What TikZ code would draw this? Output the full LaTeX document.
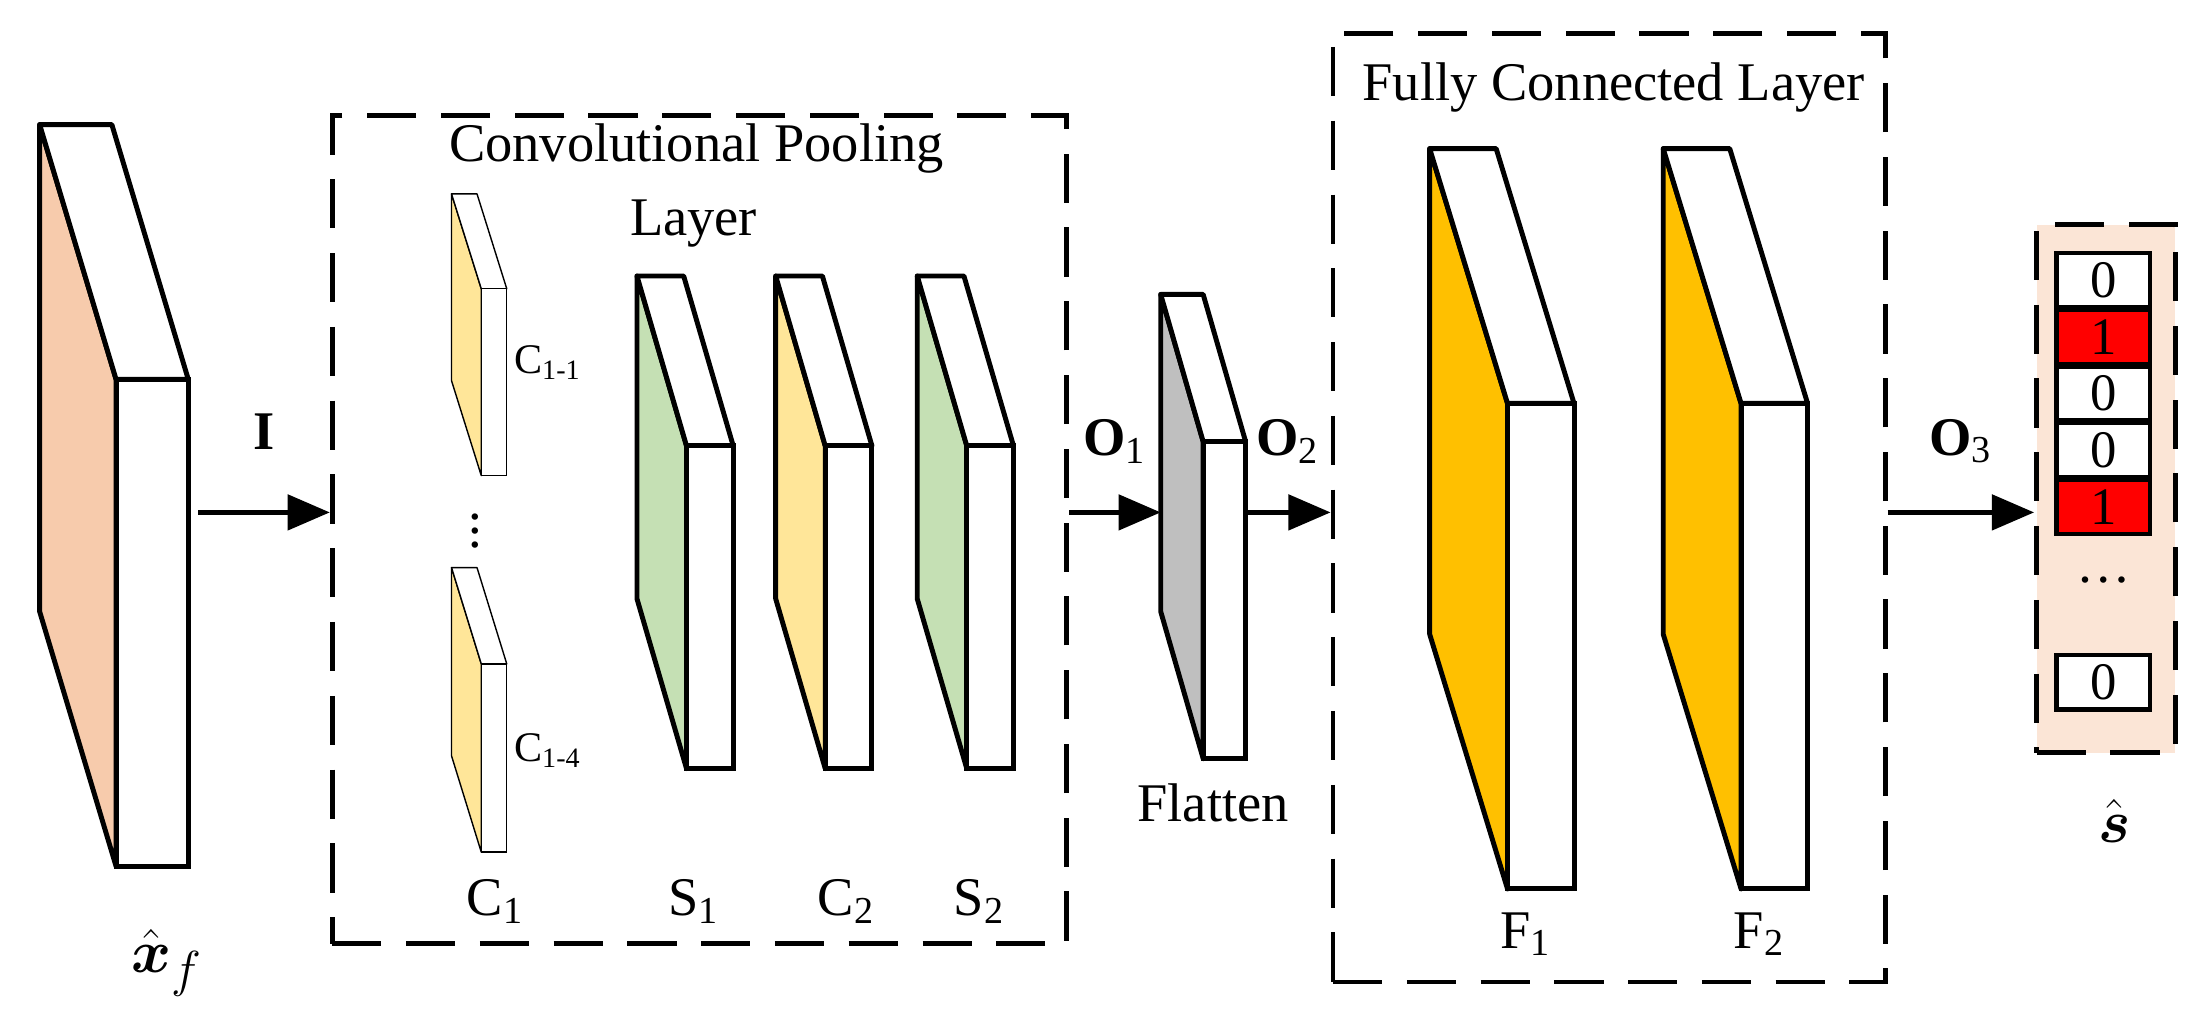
\documentclass[tikz,border=0pt]{standalone}
\usepackage{amsmath}
\usepackage{fontspec}
\setmainfont{Liberation Serif}
\usetikzlibrary{arrows.meta,positioning}
\definecolor{peach}{RGB}{247,203,172}
\definecolor{paleyellow}{RGB}{255,230,153}
\definecolor{palegreen}{RGB}{197,224,180}
\definecolor{gold}{RGB}{255,192,0}
\definecolor{flatgray}{RGB}{191,191,191}
\definecolor{outbg}{RGB}{251,229,214}
\tikzset{
  layerbox/.style = {draw, line width=1.4pt, dash pattern=on 14pt off 7pt},
  conn/.style     = {line width=1.3pt, -{Triangle[length=12pt,width=10pt]}},
  lbl/.style      = {font=\fontsize{15.5}{18}\selectfont},
  small/.style    = {font=\fontsize{12}{14}\selectfont},
  cell/.style     = {draw, line width=1.4pt, minimum width=26.5pt, minimum height=15.5pt,
                     inner sep=0pt, font=\fontsize{15}{17}\selectfont}
}
% slab: x, y (front top-left), w, h, dx, dy, colour, line width
\newcommand{\slab}[8]{%
  \filldraw[fill=#7, line width=#8, line join=round] (#1,#2) -- (#1-#5,#2-#6) -- (#1-#5,#2+#4-#6) -- (#1,#2+#4) -- cycle;
  \filldraw[fill=white, line width=#8, line join=round] (#1,#2) -- (#1-#5,#2-#6) -- (#1-#5+#3,#2-#6) -- (#1+#3,#2) -- cycle;
  \filldraw[fill=white, line width=#8] (#1,#2) rectangle (#1+#3,#2+#4);
}
\begin{document}
\begin{tikzpicture}[x=0.014155cm, y=-0.014155cm]
  \useasboundingbox (0,0) rectangle (1550,715);
  % input
  \slab{82}{268}{51}{344}{54}{180}{peach}{1.4pt}
  \node[lbl, font=\fontsize{19}{21}\selectfont] (xf) at (118,680) {$\hat{\boldsymbol{x}}_{f}$};
  % convolutional pooling layer
  \node[layerbox, minimum width=519*0.014155cm, minimum height=585*0.014155cm, anchor=north west] (conv) at (233,80) {};
  \node[lbl] (convt) at (492,105) {Convolutional Pooling};
  \node[lbl] (convl) at (490,158) {Layer};
  \slab{340}{204}{18}{132}{21}{67}{paleyellow}{0.4pt}
  \slab{340}{469}{18}{133}{21}{68}{paleyellow}{0.4pt}
  \node[small] (c11) at (387,256) {C\textsubscript{1-1}};
  \node[small] (c14) at (387,530) {C\textsubscript{1-4}};
  \node[lbl] (dots) at (336,368) {$\vdots$};
  \foreach \x/\c in {485/palegreen, 583/paleyellow, 683/palegreen}
    \slab{\x}{315}{33}{228}{35}{120}{\c}{1.4pt};
  \foreach \x/\t in {350/C\textsubscript{1}, 490/S\textsubscript{1}, 598/C\textsubscript{2}, 692/S\textsubscript{2}}
    \node[lbl] at (\x,637) {\t};
  % flatten
  \slab{850}{312}{30}{224}{30}{104}{flatgray}{1.4pt}
  \node[lbl] (flat) at (857,567) {Flatten};
  % fully connected layer
  \node[layerbox, minimum width=390*0.014155cm, minimum height=670*0.014155cm, anchor=north west] (fc) at (940,22) {};
  \node[lbl] (fct) at (1140,62) {Fully Connected Layer};
  \foreach \x/\t in {1065/F\textsubscript{1}, 1230/F\textsubscript{2}} {
    \slab{\x}{285}{47}{343}{55}{180}{gold}{1.4pt};
    \node[lbl] at (\x+13,660) {\t};
  }
  % output
  \node[layerbox, fill=outbg, minimum width=98*0.014155cm, minimum height=373*0.014155cm, anchor=north west] (out) at (1437,157) {};
  \foreach \v/\c [count=\i] in {0/white, 1/red, 0/white, 0/white, 1/red}
    \node[cell, fill=\c] (s\i) at (1486,158+40*\i) {\v};
  \node[lbl] (sdots) at (1486,410) {\dots};
  \node[cell, fill=white] (s6) at (1486,482) {0};
  \node[lbl, font=\fontsize{19}{21}\selectfont] (shat) at (1494,580) {$\hat{\boldsymbol{s}}$};
  % connectors
  \coordinate (inr) at (140,362);
  \coordinate (flb) at (820,362);
  \coordinate (flr) at (880,362);
  \draw[conn] (inr) -- (inr -| conv.west) node[midway, above=14pt, lbl] {\textbf{I}};
  \draw[conn] (flb -| conv.east) -- (flb) node[midway, above=10pt, lbl] {\textbf{O}\textsubscript{1}};
  \draw[conn] (flr) -- (flr -| fc.west) node[midway, above=10pt, lbl] {\textbf{O}\textsubscript{2}};
  \draw[conn] (flr -| fc.east) -- (flr -| out.west) node[midway, above=10pt, lbl] {\textbf{O}\textsubscript{3}};
\end{tikzpicture}
\end{document}
